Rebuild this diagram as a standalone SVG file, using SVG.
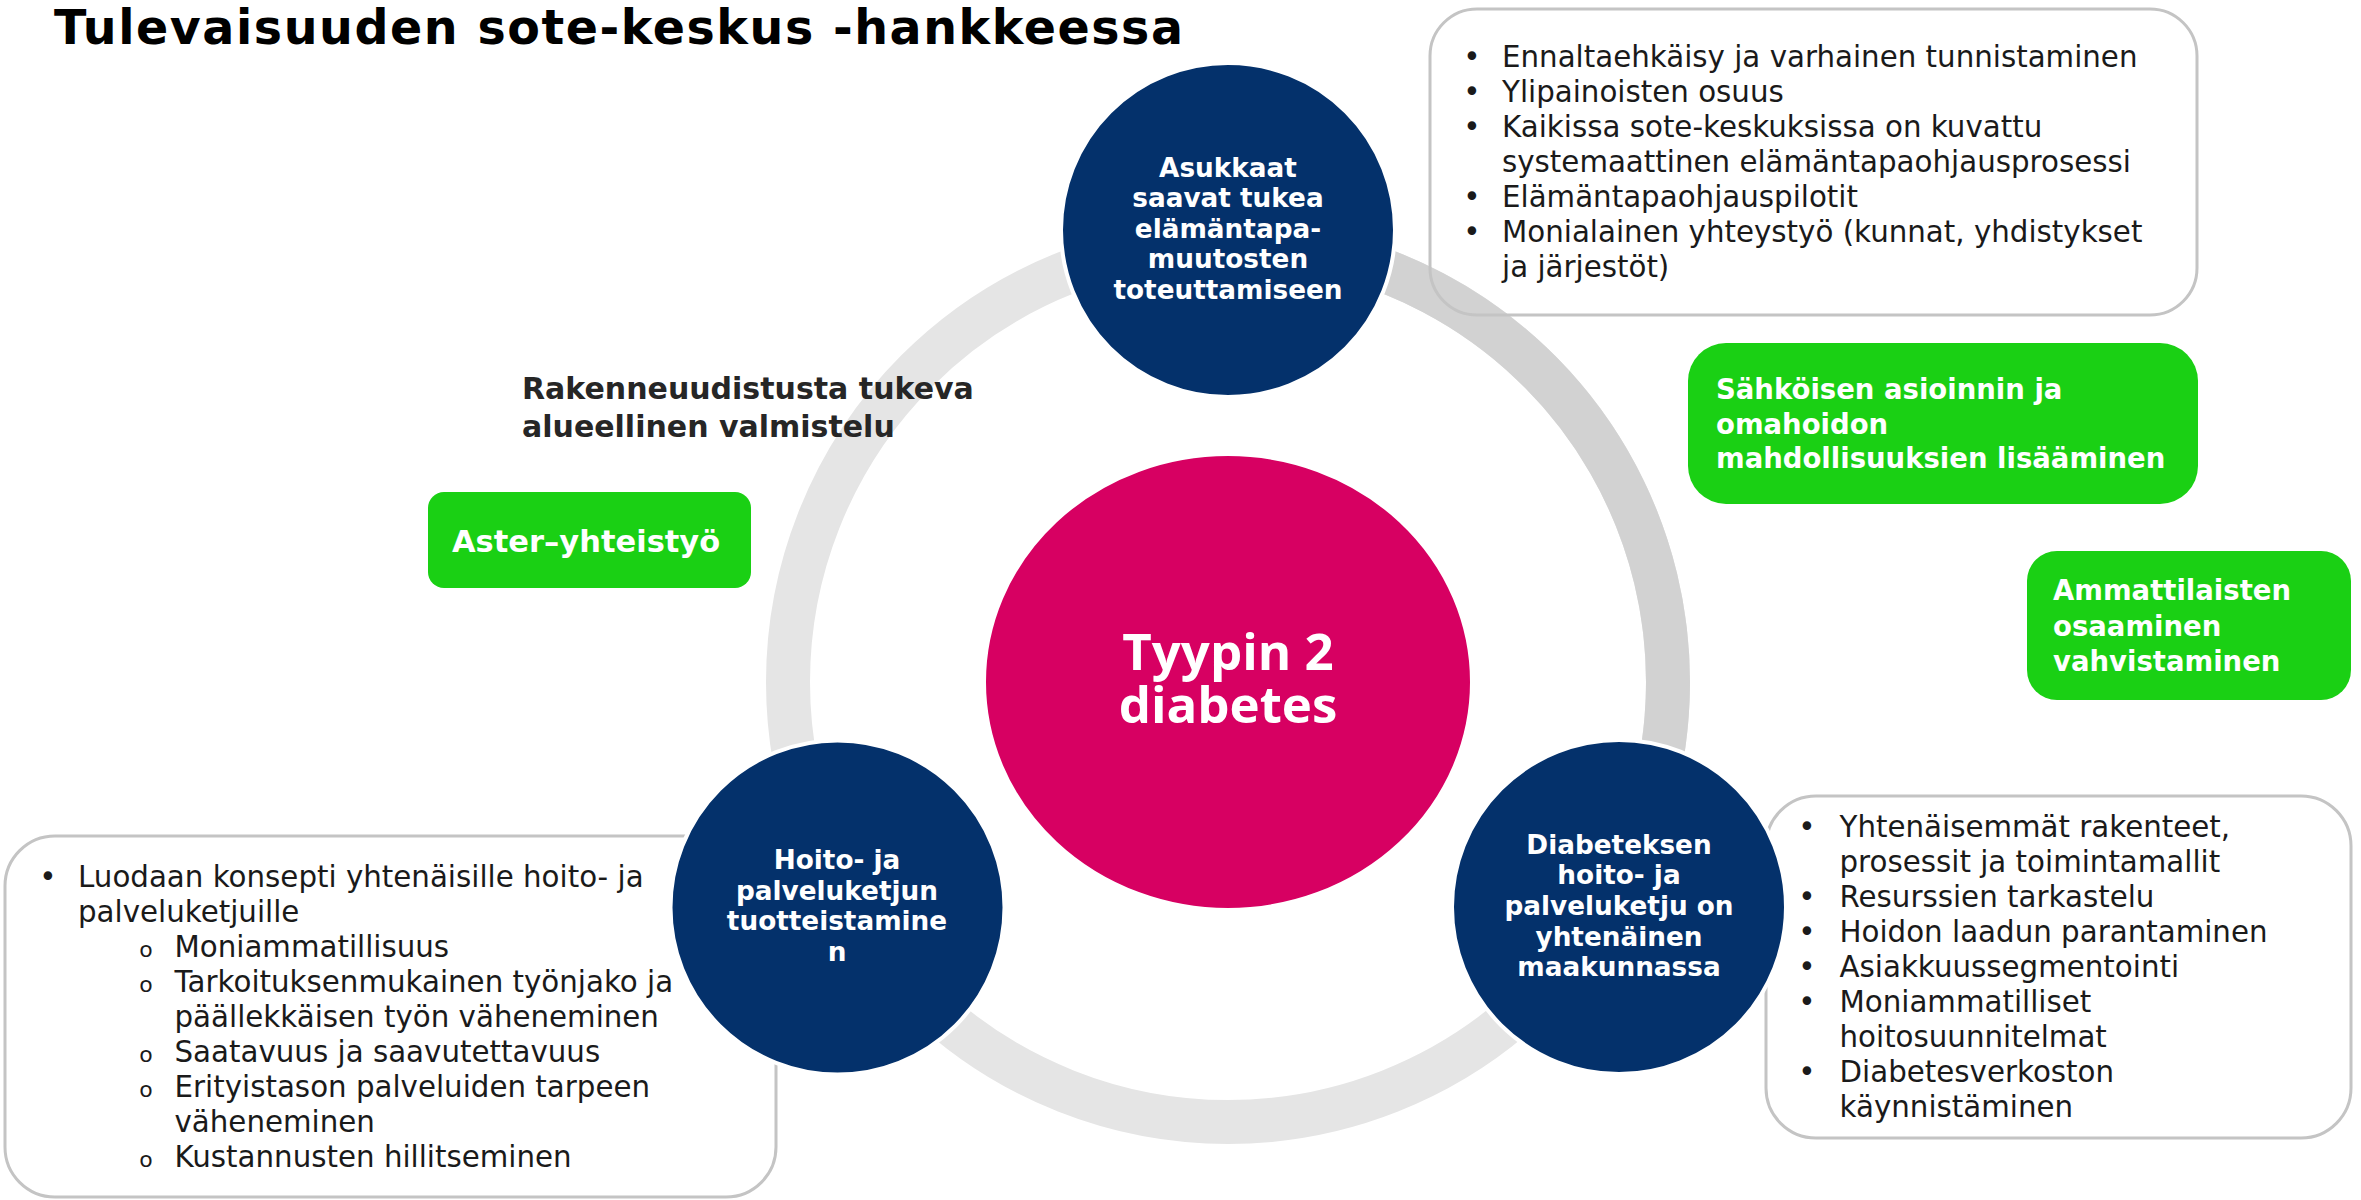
<svg xmlns="http://www.w3.org/2000/svg" width="2361" height="1200" viewBox="0 0 2361 1200">
  <defs>
    <style>
      .title{font-family:"DejaVu Sans",sans-serif;font-weight:700;font-size:47.5px;fill:#000}
      .head{font-family:"DejaVu Sans",sans-serif;font-weight:700;font-size:30px;fill:#262626}
      .ring{fill:none;stroke-width:44}
      .outline{fill:none;stroke:#c4c4c4;stroke-width:3}
      .green{fill:#1ad014}
      .gtext{font-family:"DejaVu Sans",sans-serif;font-weight:700;font-size:27.5px;fill:#fff}
      .node{fill:#04316b;stroke:#fff;stroke-width:4}
      .hub{fill:#d70062;stroke:#fff;stroke-width:4}
      .ntext{font-family:"DejaVu Sans",sans-serif;font-weight:700;font-size:26.3px;fill:#fff;text-anchor:middle}
      .htext{font-family:"Open Sans","DejaVu Sans",sans-serif;font-weight:700;font-size:51px;fill:#fff;text-anchor:middle}
      .body{font-family:"DejaVu Sans",sans-serif;font-weight:400;font-size:29.3px;fill:#1a1a1a}
      .dot{font-family:"DejaVu Sans",sans-serif;font-size:29.3px;fill:#1a1a1a;text-anchor:middle}
      .sub{font-family:"DejaVu Sans",sans-serif;font-weight:400;font-size:22px;fill:#1a1a1a;text-anchor:middle}
    </style>
  </defs>

  <!-- heading -->
  <text class="title" x="54" y="44" textLength="1129">Tulevaisuuden sote-keskus -hankkeessa</text>

  <!-- cycle ring joining the three themes -->
  <g id="connectors">
    <circle class="ring" cx="1228" cy="682" r="440" stroke="#e5e5e5"/>
    <path class="ring" d="M1228,242 A440,440 0 0 1 1609.05,902" stroke="#d2d2d2"/>
  </g>

  <!-- detail boxes -->
  <g id="box-top">
    <rect class="outline" x="1430" y="9" width="767" height="306" rx="47"/>
    <text class="dot" x="1472" y="67">•</text>
    <text class="body" x="1502" y="67">Ennaltaehkäisy ja varhainen tunnistaminen</text>
    <text class="dot" x="1472" y="102">•</text>
    <text class="body" x="1502" y="102">Ylipainoisten osuus</text>
    <text class="dot" x="1472" y="137">•</text>
    <text class="body" x="1502" y="137">Kaikissa sote-keskuksissa on kuvattu</text>
    <text class="body" x="1502" y="172">systemaattinen elämäntapaohjausprosessi</text>
    <text class="dot" x="1472" y="207">•</text>
    <text class="body" x="1502" y="207">Elämäntapaohjauspilotit</text>
    <text class="dot" x="1472" y="242">•</text>
    <text class="body" x="1502" y="242">Monialainen yhteystyö (kunnat, yhdistykset</text>
    <text class="body" x="1502" y="277">ja järjestöt)</text>
  </g>

  <g id="box-left">
    <rect class="outline" x="5" y="836" width="771" height="361" rx="50"/>
    <text class="dot" x="48" y="887">•</text>
    <text class="body" x="78" y="887">Luodaan konsepti yhtenäisille hoito- ja</text>
    <text class="body" x="78" y="922">palveluketjuille</text>
    <text class="sub" x="146" y="957">o</text>
    <text class="body" x="174.5" y="957">Moniammatillisuus</text>
    <text class="sub" x="146" y="992">o</text>
    <text class="body" x="174.5" y="992">Tarkoituksenmukainen työnjako ja</text>
    <text class="body" x="174.5" y="1027">päällekkäisen työn väheneminen</text>
    <text class="sub" x="146" y="1062">o</text>
    <text class="body" x="174.5" y="1062">Saatavuus ja saavutettavuus</text>
    <text class="sub" x="146" y="1097">o</text>
    <text class="body" x="174.5" y="1097">Erityistason palveluiden tarpeen</text>
    <text class="body" x="174.5" y="1132">väheneminen</text>
    <text class="sub" x="146" y="1167">o</text>
    <text class="body" x="174.5" y="1167">Kustannusten hillitseminen</text>
  </g>

  <g id="box-right">
    <rect class="outline" x="1766" y="796" width="585" height="342" rx="50"/>
    <text class="dot" x="1807" y="837">•</text>
    <text class="body" x="1839.5" y="837">Yhtenäisemmät rakenteet,</text>
    <text class="body" x="1839.5" y="872">prosessit ja toimintamallit</text>
    <text class="dot" x="1807" y="907">•</text>
    <text class="body" x="1839.5" y="907">Resurssien tarkastelu</text>
    <text class="dot" x="1807" y="942">•</text>
    <text class="body" x="1839.5" y="942">Hoidon laadun parantaminen</text>
    <text class="dot" x="1807" y="977">•</text>
    <text class="body" x="1839.5" y="977">Asiakkuussegmentointi</text>
    <text class="dot" x="1807" y="1012">•</text>
    <text class="body" x="1839.5" y="1012">Moniammatilliset</text>
    <text class="body" x="1839.5" y="1047">hoitosuunnitelmat</text>
    <text class="dot" x="1807" y="1082">•</text>
    <text class="body" x="1839.5" y="1082">Diabetesverkoston</text>
    <text class="body" x="1839.5" y="1117">käynnistäminen</text>
  </g>

  <!-- regional preparation label -->
  <g id="label-rakenne">
    <text class="head" x="522" y="399">Rakenneuudistusta tukeva</text>
    <text class="head" x="522" y="437">alueellinen valmistelu</text>
  </g>

  <!-- green initiative tags -->
  <g id="tag-aster">
    <rect class="green" x="428" y="492" width="323" height="96" rx="16"/>
    <text class="gtext" x="452" y="552" style="font-size:30.5px">Aster–yhteistyö</text>
  </g>
  <g id="tag-sahkoinen">
    <rect class="green" x="1688" y="343" width="510" height="161" rx="38"/>
    <text class="gtext" x="1716" y="399">Sähköisen asioinnin ja</text>
    <text class="gtext" x="1716" y="434">omahoidon</text>
    <text class="gtext" x="1716" y="468">mahdollisuuksien lisääminen</text>
  </g>
  <g id="tag-ammattilaiset">
    <rect class="green" x="2027" y="551" width="324" height="149" rx="30"/>
    <text class="gtext" x="2053" y="600">Ammattilaisten</text>
    <text class="gtext" x="2053" y="636">osaaminen</text>
    <text class="gtext" x="2053" y="671">vahvistaminen</text>
  </g>

  <!-- hub -->
  <g id="node-hub">
    <ellipse class="hub" cx="1228" cy="682" rx="244" ry="228"/>
    <text class="htext" x="1228" y="670">Tyypin 2<tspan x="1228" y="723">diabetes</tspan></text>
  </g>

  <!-- theme circles -->
  <g id="node-asukkaat">
    <circle class="node" cx="1228" cy="230" r="167"/>
    <text class="ntext" x="1228" y="177">Asukkaat</text>
    <text class="ntext" x="1228" y="207">saavat tukea</text>
    <text class="ntext" x="1228" y="238">elämäntapa-</text>
    <text class="ntext" x="1228" y="268">muutosten</text>
    <text class="ntext" x="1228" y="299">toteuttamiseen</text>
  </g>
  <g id="node-hoito">
    <circle class="node" cx="837.5" cy="907.5" r="167"/>
    <text class="ntext" x="837" y="869">Hoito- ja</text>
    <text class="ntext" x="837" y="900">palveluketjun</text>
    <text class="ntext" x="837" y="930">tuotteistamine</text>
    <text class="ntext" x="837" y="961">n</text>
  </g>
  <g id="node-diabetes">
    <circle class="node" cx="1619" cy="907" r="167"/>
    <text class="ntext" x="1619" y="854">Diabeteksen</text>
    <text class="ntext" x="1619" y="884">hoito- ja</text>
    <text class="ntext" x="1619" y="915">palveluketju on</text>
    <text class="ntext" x="1619" y="946">yhtenäinen</text>
    <text class="ntext" x="1619" y="976">maakunnassa</text>
  </g>
</svg>
